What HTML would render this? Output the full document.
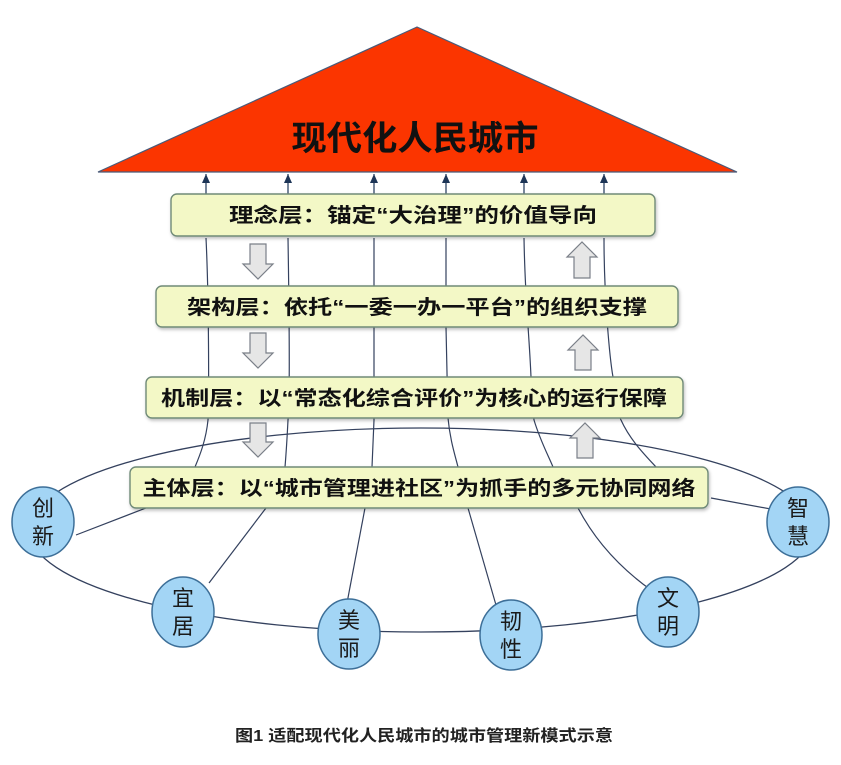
<!DOCTYPE html>
<html><head><meta charset="utf-8"><style>
html,body{margin:0;padding:0;background:#fff;}
svg{display:block;font-family:"Liberation Sans","Noto Sans CJK SC",sans-serif;}
</style></head><body>
<svg width="841" height="765" viewBox="0 0 841 765" xmlns="http://www.w3.org/2000/svg">
<defs>
<marker id="ah" markerWidth="9" markerHeight="8" refX="9" refY="4" orient="auto" markerUnits="userSpaceOnUse"><path d="M0,0 L9,4 L0,8 Z" fill="#1d3557"/></marker>
<filter id="sh" x="-5%" y="-20%" width="110%" height="150%"><feDropShadow dx="1" dy="2" stdDeviation="1.5" flood-color="#000" flood-opacity="0.25"/></filter>
</defs>
<rect width="841" height="765" fill="#fff"/>
<ellipse cx="421" cy="530" rx="392" ry="102" fill="none" stroke="#34415e" stroke-width="1.3"/>
<g fill="none" stroke="#34415e" stroke-width="1.2">
<path d="M206,238 C209,300 209,400 208,420 C206,440 200,455 195,467"/>
<path d="M288,238 C289,300 290,400 288,420 C287,440 286,455 285,467"/>
<path d="M374,238 L374,420 L372,467"/>
<path d="M446,238 L446,327 C447,380 448,410 448,418 C450,440 455,455 458,467"/>
<path d="M524,238 C525,300 529,330 531,377 C532,400 534,420 534,420 C540,440 548,455 553,467"/>
<path d="M604,238 C604,300 610,360 613,377 C616,400 620,420 621,420 C630,440 645,455 656,467"/>
<path d="M146,508 L76,535"/>
<path d="M266,508 L209,583"/>
<path d="M365,508 L347,603"/>
<path d="M468,508 L498,612"/>
<path d="M578,508 C600,550 630,575 651,590"/>
<path d="M711,498 L776,510"/>
</g>
<polygon points="417,27 98,172 737,172" fill="#fb3500" stroke="#4a5a78" stroke-width="1.2"/>
<text x="415" y="150" font-size="34" font-weight="bold" text-anchor="middle" fill="#111" textLength="247" lengthAdjust="spacingAndGlyphs">现代化人民城市</text>
<g stroke="#1d3557" stroke-width="1.2" marker-end="url(#ah)">
<line x1="206" y1="196" x2="206" y2="174"/>
<line x1="288" y1="196" x2="288" y2="174"/>
<line x1="374" y1="196" x2="374" y2="174"/>
<line x1="446" y1="196" x2="446" y2="174"/>
<line x1="524" y1="196" x2="524" y2="174"/>
<line x1="604" y1="196" x2="604" y2="174"/>
</g>
<g fill="#f3f8c6" stroke="#6f8a77" stroke-width="1.4" filter="url(#sh)">
<rect x="171" y="194" width="484" height="42" rx="6"/>
<rect x="156" y="286" width="522" height="41" rx="6"/>
<rect x="146" y="377" width="537" height="41" rx="6"/>
<rect x="130" y="467" width="578" height="41" rx="6"/>
</g>
<g font-size="20" font-weight="bold" fill="#111" text-anchor="middle">
<text x="413" y="222" textLength="368" lengthAdjust="spacingAndGlyphs">理念层：锚定“大治理”的价值导向</text>
<text x="417" y="314" textLength="460" lengthAdjust="spacingAndGlyphs">架构层：依托“一委一办一平台”的组织支撑</text>
<text x="414" y="405" textLength="506" lengthAdjust="spacingAndGlyphs">机制层：以“常态化综合评价”为核心的运行保障</text>
<text x="419" y="495" textLength="553" lengthAdjust="spacingAndGlyphs">主体层：以“城市管理进社区”为抓手的多元协同网络</text>
</g>
<g fill="#e6e6e6" stroke="#7a7f88" stroke-width="1.2">
<path d="M250,244 h16 v20 h7 l-15,15 l-15,-15 h7 z"/>
<path d="M250,333 h16 v20 h7 l-15,15 l-15,-15 h7 z"/>
<path d="M250,423 h16 v19 h7 l-15,15 l-15,-15 h7 z"/>
<path d="M574,278 h16 v-21 h7 l-15,-15 l-15,15 h7 z"/>
<path d="M575,370 h16 v-20 h7 l-15,-15 l-15,15 h7 z"/>
<path d="M577,458 h16 v-20 h7 l-15,-15 l-15,15 h7 z"/>
</g>
<g fill="#a3d5f5" stroke="#3d6f98" stroke-width="1.5">
<ellipse cx="43" cy="522" rx="31" ry="35"/>
<ellipse cx="798" cy="522" rx="31" ry="35"/>
<ellipse cx="183" cy="612" rx="31" ry="35"/>
<ellipse cx="349" cy="634" rx="31" ry="35"/>
<ellipse cx="511" cy="635" rx="31" ry="35"/>
<ellipse cx="668" cy="612" rx="31" ry="35"/>
</g>
<g font-size="22" fill="#1a1a1a" text-anchor="middle">
<text x="43" y="516">创</text><text x="43" y="544">新</text>
<text x="798" y="516">智</text><text x="798" y="544">慧</text>
<text x="183" y="606">宜</text><text x="183" y="634">居</text>
<text x="349" y="628">美</text><text x="349" y="656">丽</text>
<text x="511" y="629">韧</text><text x="511" y="657">性</text>
<text x="668" y="606">文</text><text x="668" y="634">明</text>
</g>
<text x="424" y="741" font-size="16" font-weight="bold" fill="#222" text-anchor="middle" textLength="378" lengthAdjust="spacingAndGlyphs">图1 适配现代化人民城市的城市管理新模式示意</text>
</svg>
</body></html>
